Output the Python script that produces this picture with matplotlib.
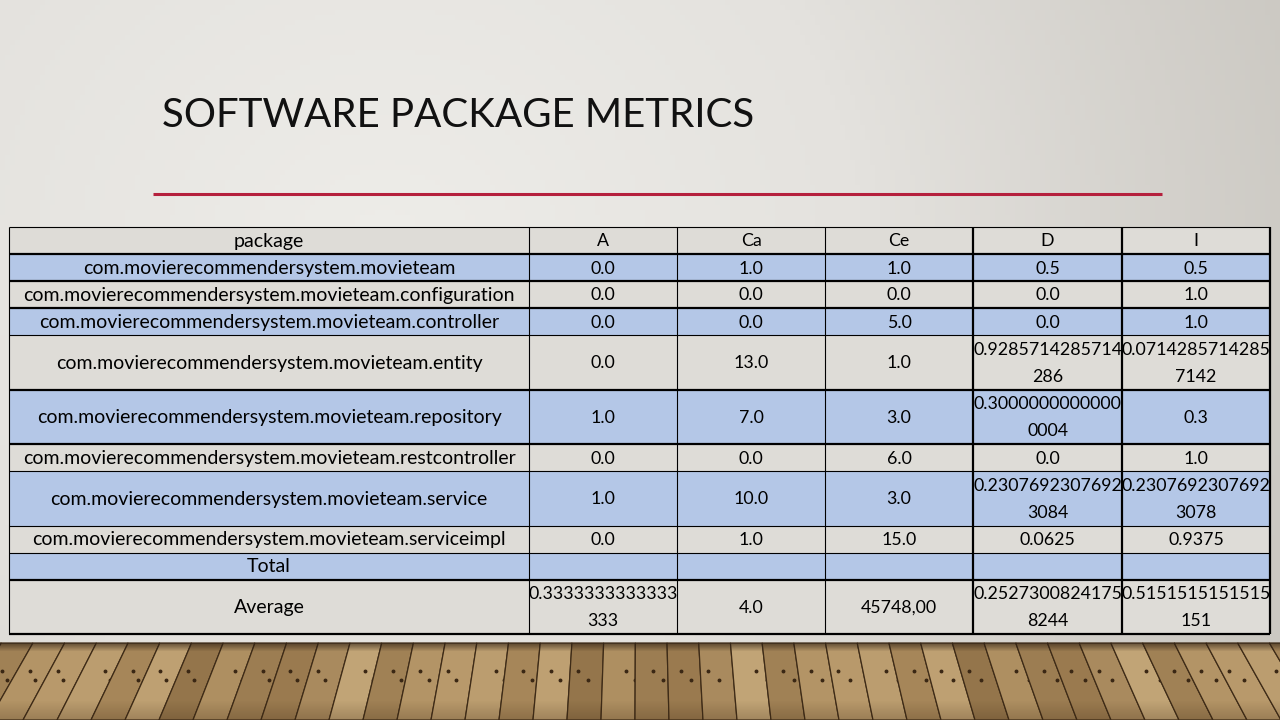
import matplotlib
matplotlib.use("Agg")
import matplotlib.pyplot as plt
import numpy as np
from matplotlib.patches import Rectangle, Polygon
from matplotlib.colors import LinearSegmentedColormap

# ---------------- data ----------------
title = "SOFTWARE PACKAGE METRICS"
columns = ["package", "A", "Ca", "Ce", "D", "I"]
packages = [
    "com.movierecommendersystem.movieteam",
    "com.movierecommendersystem.movieteam.configuration",
    "com.movierecommendersystem.movieteam.controller",
    "com.movierecommendersystem.movieteam.entity",
    "com.movierecommendersystem.movieteam.repository",
    "com.movierecommendersystem.movieteam.restcontroller",
    "com.movierecommendersystem.movieteam.service",
    "com.movierecommendersystem.movieteam.serviceimpl",
    "Total",
    "Average",
]
col_A = ["0.0", "0.0", "0.0", "0.0", "1.0", "0.0", "1.0", "0.0", "", "0.3333333333333333"]
col_Ca = ["1.0", "0.0", "0.0", "13.0", "7.0", "0.0", "10.0", "1.0", "", "4.0"]
col_Ce = ["1.0", "0.0", "5.0", "1.0", "3.0", "6.0", "3.0", "15.0", "", "45748,00"]
col_D = ["0.5", "0.0", "0.0", "0.9285714285714286", "0.30000000000000004", "0.0",
         "0.23076923076923084", "0.0625", "", "0.25273008241758244"]
col_I = ["0.5", "1.0", "1.0", "0.07142857142857142", "0.3", "1.0",
         "0.23076923076923078", "0.9375", "", "0.5151515151515151"]

# ---------------- layout ----------------
W, H = 1280, 720
fig = plt.figure(figsize=(12.8, 7.2), dpi=100)
ax = fig.add_axes([0, 0, 1, 1])
ax.set_xlim(0, W)
ax.set_ylim(H, 0)
ax.axis("off")

# background gradient
xx = np.linspace(0, 1, 256)
yy = np.linspace(0, 1, 144)
X, Y = np.meshgrid(xx, yy)
d = np.sqrt(((X - 0.3) * 1.0) ** 2 + ((Y - 0.35) * 0.6) ** 2)
bg_cmap = LinearSegmentedColormap.from_list("bg", ["#EEEDE9", "#E4E2DE", "#CBC8C2"])
ax.imshow(d, cmap=bg_cmap, extent=[0, W, H, 0], aspect="auto", zorder=0,
          vmin=0, vmax=0.75)

# wood floor
floor_top = 643
ax.add_patch(Rectangle((0, floor_top), W, H - floor_top, facecolor="#A2835A",
                       edgecolor="none", zorder=1))
wood_cols = ["#A98A5E", "#BB9D6F", "#9C7D52", "#B39466", "#94754B", "#C1A476",
             "#A68659", "#9A7A4F", "#B8996B", "#AE8F61", "#A08155", "#BEA072"]
vp_x, vp_y = 640, -420
spacing = 34
xb = np.arange(-120, W + 160, spacing, dtype=float) + 7
def x_at(x, yv):
    t = (H - yv) / (H - vp_y)
    return x + (vp_x - x) * t
for i in range(len(xb) - 1):
    x0, x1 = xb[i], xb[i + 1]
    poly = [(x0, H), (x1, H), (x_at(x1, floor_top), floor_top), (x_at(x0, floor_top), floor_top)]
    ax.add_patch(Polygon(poly, closed=True, facecolor=wood_cols[(i * 5) % len(wood_cols)],
                         edgecolor="#3E2B17", linewidth=0.9, zorder=1))
    # nail dots
    for k, fy in enumerate([671, 680]):
        off = 8 + ((i * 7) % 4) * 5 + k * 10
        fx = x_at(x0, fy) + off
        ax.plot(fx, fy, "o", color="#3A2714", markersize=1.8, zorder=1)
# darkening toward the bottom
for j in range(20):
    yj = H - 20 + j
    ax.add_patch(Rectangle((0, yj), W, 1, facecolor="#3A2510",
                           alpha=0.012 * j, edgecolor="none", zorder=1))
# shadow at top of floor
for j in range(8):
    ax.add_patch(Rectangle((0, floor_top + j), W, 1, facecolor="#2E2014",
                           alpha=0.6 * (1 - j / 8), edgecolor="none", zorder=1))

# title + red rule
ax.text(162, 127, title, fontsize=29, family="Lato", color="#111111",
        ha="left", va="baseline", zorder=3)
ax.plot([153, 1162], [194, 194], color="#B5203D", linewidth=2.2,
        solid_capstyle="butt", zorder=3)

# table
col_edges = [9, 529, 677, 825, 973, 1122, 1270]
table_top = 227
single_h, double_h = 27.0, 54.5
wrap = 15

rows = [columns]
for i in range(len(packages)):
    rows.append([packages[i], col_A[i], col_Ca[i], col_Ce[i], col_D[i], col_I[i]])

def split(s):
    return [s[k:k + wrap] for k in range(0, len(s), wrap)] if len(s) > wrap else [s]

blue, grey = "#B4C7E7", "#DEDCD7"
y = table_top
row_bounds = []
for r, row in enumerate(rows):
    nlines = max(len(split(v)) if c > 0 else 1 for c, v in enumerate(row))
    h = single_h if nlines == 1 else double_h
    fc = grey if r % 2 == 0 else blue
    ax.add_patch(Rectangle((col_edges[0], y), col_edges[-1] - col_edges[0], h,
                           facecolor=fc, edgecolor="none", zorder=2))
    for c, v in enumerate(row):
        cx = (col_edges[c] + col_edges[c + 1]) / 2
        parts = split(v) if c > 0 else [v]
        n = len(parts)
        fs = 14 if c == 0 else 12.8
        for k, p in enumerate(parts):
            cy = y + h * (k + 0.5) / n
            ax.text(cx, cy + 1, p, fontsize=fs, family="Lato", color="#000000",
                    ha="center", va="center", zorder=4)
    row_bounds.append((y, y + h))
    y += h
table_bottom = y

# grid lines
thin, thick = 1.0, 2.0
thick_rows = {1, 2, 3, 5, 6, 10}
for r in range(len(rows) + 1):
    yy_ = table_top if r == 0 else row_bounds[r - 1][1]
    lw = thick if (r in thick_rows or r == len(rows)) else thin
    ax.plot([col_edges[0], col_edges[-1]], [yy_, yy_], color="#000000",
            linewidth=lw * 0.8, zorder=5, solid_capstyle="butt")
thick_cols = {4, 5, 6}
for c, xe in enumerate(col_edges):
    lw = thick if c in thick_cols else thin
    ax.plot([xe, xe], [table_top, table_bottom], color="#000000",
            linewidth=lw * 0.8, zorder=5, solid_capstyle="butt")

fig.savefig("out.png", dpi=100)
